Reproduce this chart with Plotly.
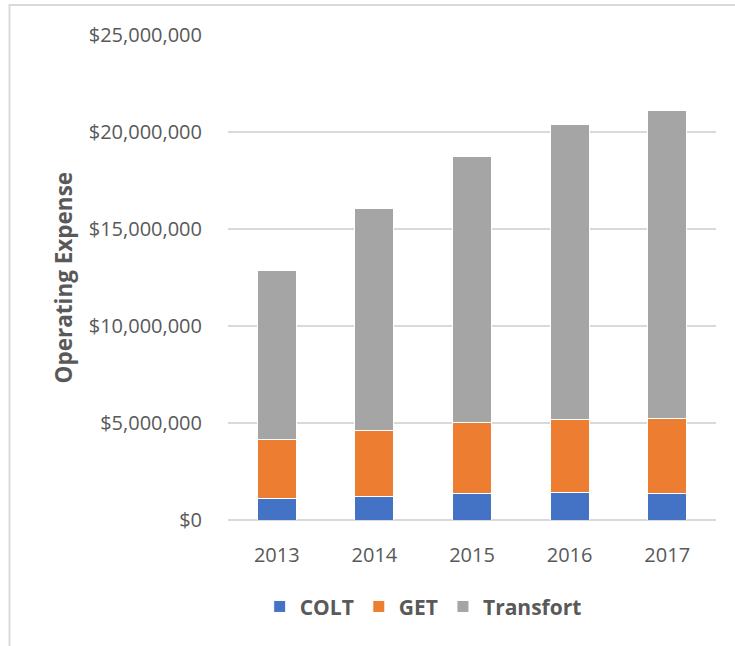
import plotly.graph_objects as go

years = ["2013", "2014", "2015", "2016", "2017"]
colt = [1120000, 1220000, 1360000, 1430000, 1360000]
get_ = [3040000, 3370000, 3680000, 3760000, 3860000]
transfort = [8710000, 11480000, 13690000, 15220000, 15880000]
y_ticks = [0, 5000000, 10000000, 15000000, 20000000, 25000000]
y_tick_labels = ["$0", "$5,000,000", "$10,000,000", "$15,000,000", "$20,000,000", "$25,000,000"]

FONT = "Open Sans"
GREY = "#595959"

fig = go.Figure()
for name, vals, col in [("COLT", colt, "#4472C4"), ("GET", get_, "#ED7D31"),
                        ("Transfort", transfort, "#A5A5A5")]:
    fig.add_trace(go.Bar(x=years, y=vals, name=name, marker_color=col,
                         marker_line=dict(color="white", width=1), width=0.4))

fig.update_layout(
    barmode="stack",
    width=735, height=646,
    margin=dict(l=228, r=19, t=35, b=126, autoexpand=False),
    paper_bgcolor="white", plot_bgcolor="white",
    font=dict(family=FONT, size=20, color=GREY),
    showlegend=True,
    legend=dict(orientation="h", x=0.40, xanchor="center", y=-0.179, yanchor="middle",
                font=dict(family=FONT, size=21, color=GREY, weight="bold"),
                traceorder="normal", itemwidth=30),
    xaxis=dict(type="category", showgrid=False, showline=False, ticks="",
               ticklabelstandoff=21, tickfont=dict(size=20, color=GREY)),
    yaxis=dict(range=[0, 25000000], tickmode="array", tickvals=y_ticks, ticktext=y_tick_labels,
               showgrid=True, gridcolor="#d9d9d9", gridwidth=1.5,
               zeroline=True, zerolinecolor="#d9d9d9", zerolinewidth=1.5,
               showline=False, ticks="", ticklabelstandoff=25,
               tickfont=dict(size=20, color=GREY)),
)

fig.add_annotation(text="<b>Operating Expense</b>", xref="paper", yref="paper",
                   x=(63 - 228) / 488, y=0.5, xanchor="center", yanchor="middle",
                   textangle=-90, showarrow=False,
                   font=dict(family=FONT, size=22.5, color=GREY))

# chart border (cropped chart frame)
fig.add_shape(type="path", xref="paper", yref="paper",
              path="M %f %f L %f %f L %f %f" % ((9.5 - 228) / 488, (520 - 650) / 485,
                                               (9.5 - 228) / 488, (520 - 5) / 485,
                                               (740 - 228) / 488, (520 - 5) / 485),
              line=dict(color="#d9d9d9", width=2))

fig.write_html("out.html", config={"displayModeBar": False},
               post_script="document.body.style.margin='0';")
